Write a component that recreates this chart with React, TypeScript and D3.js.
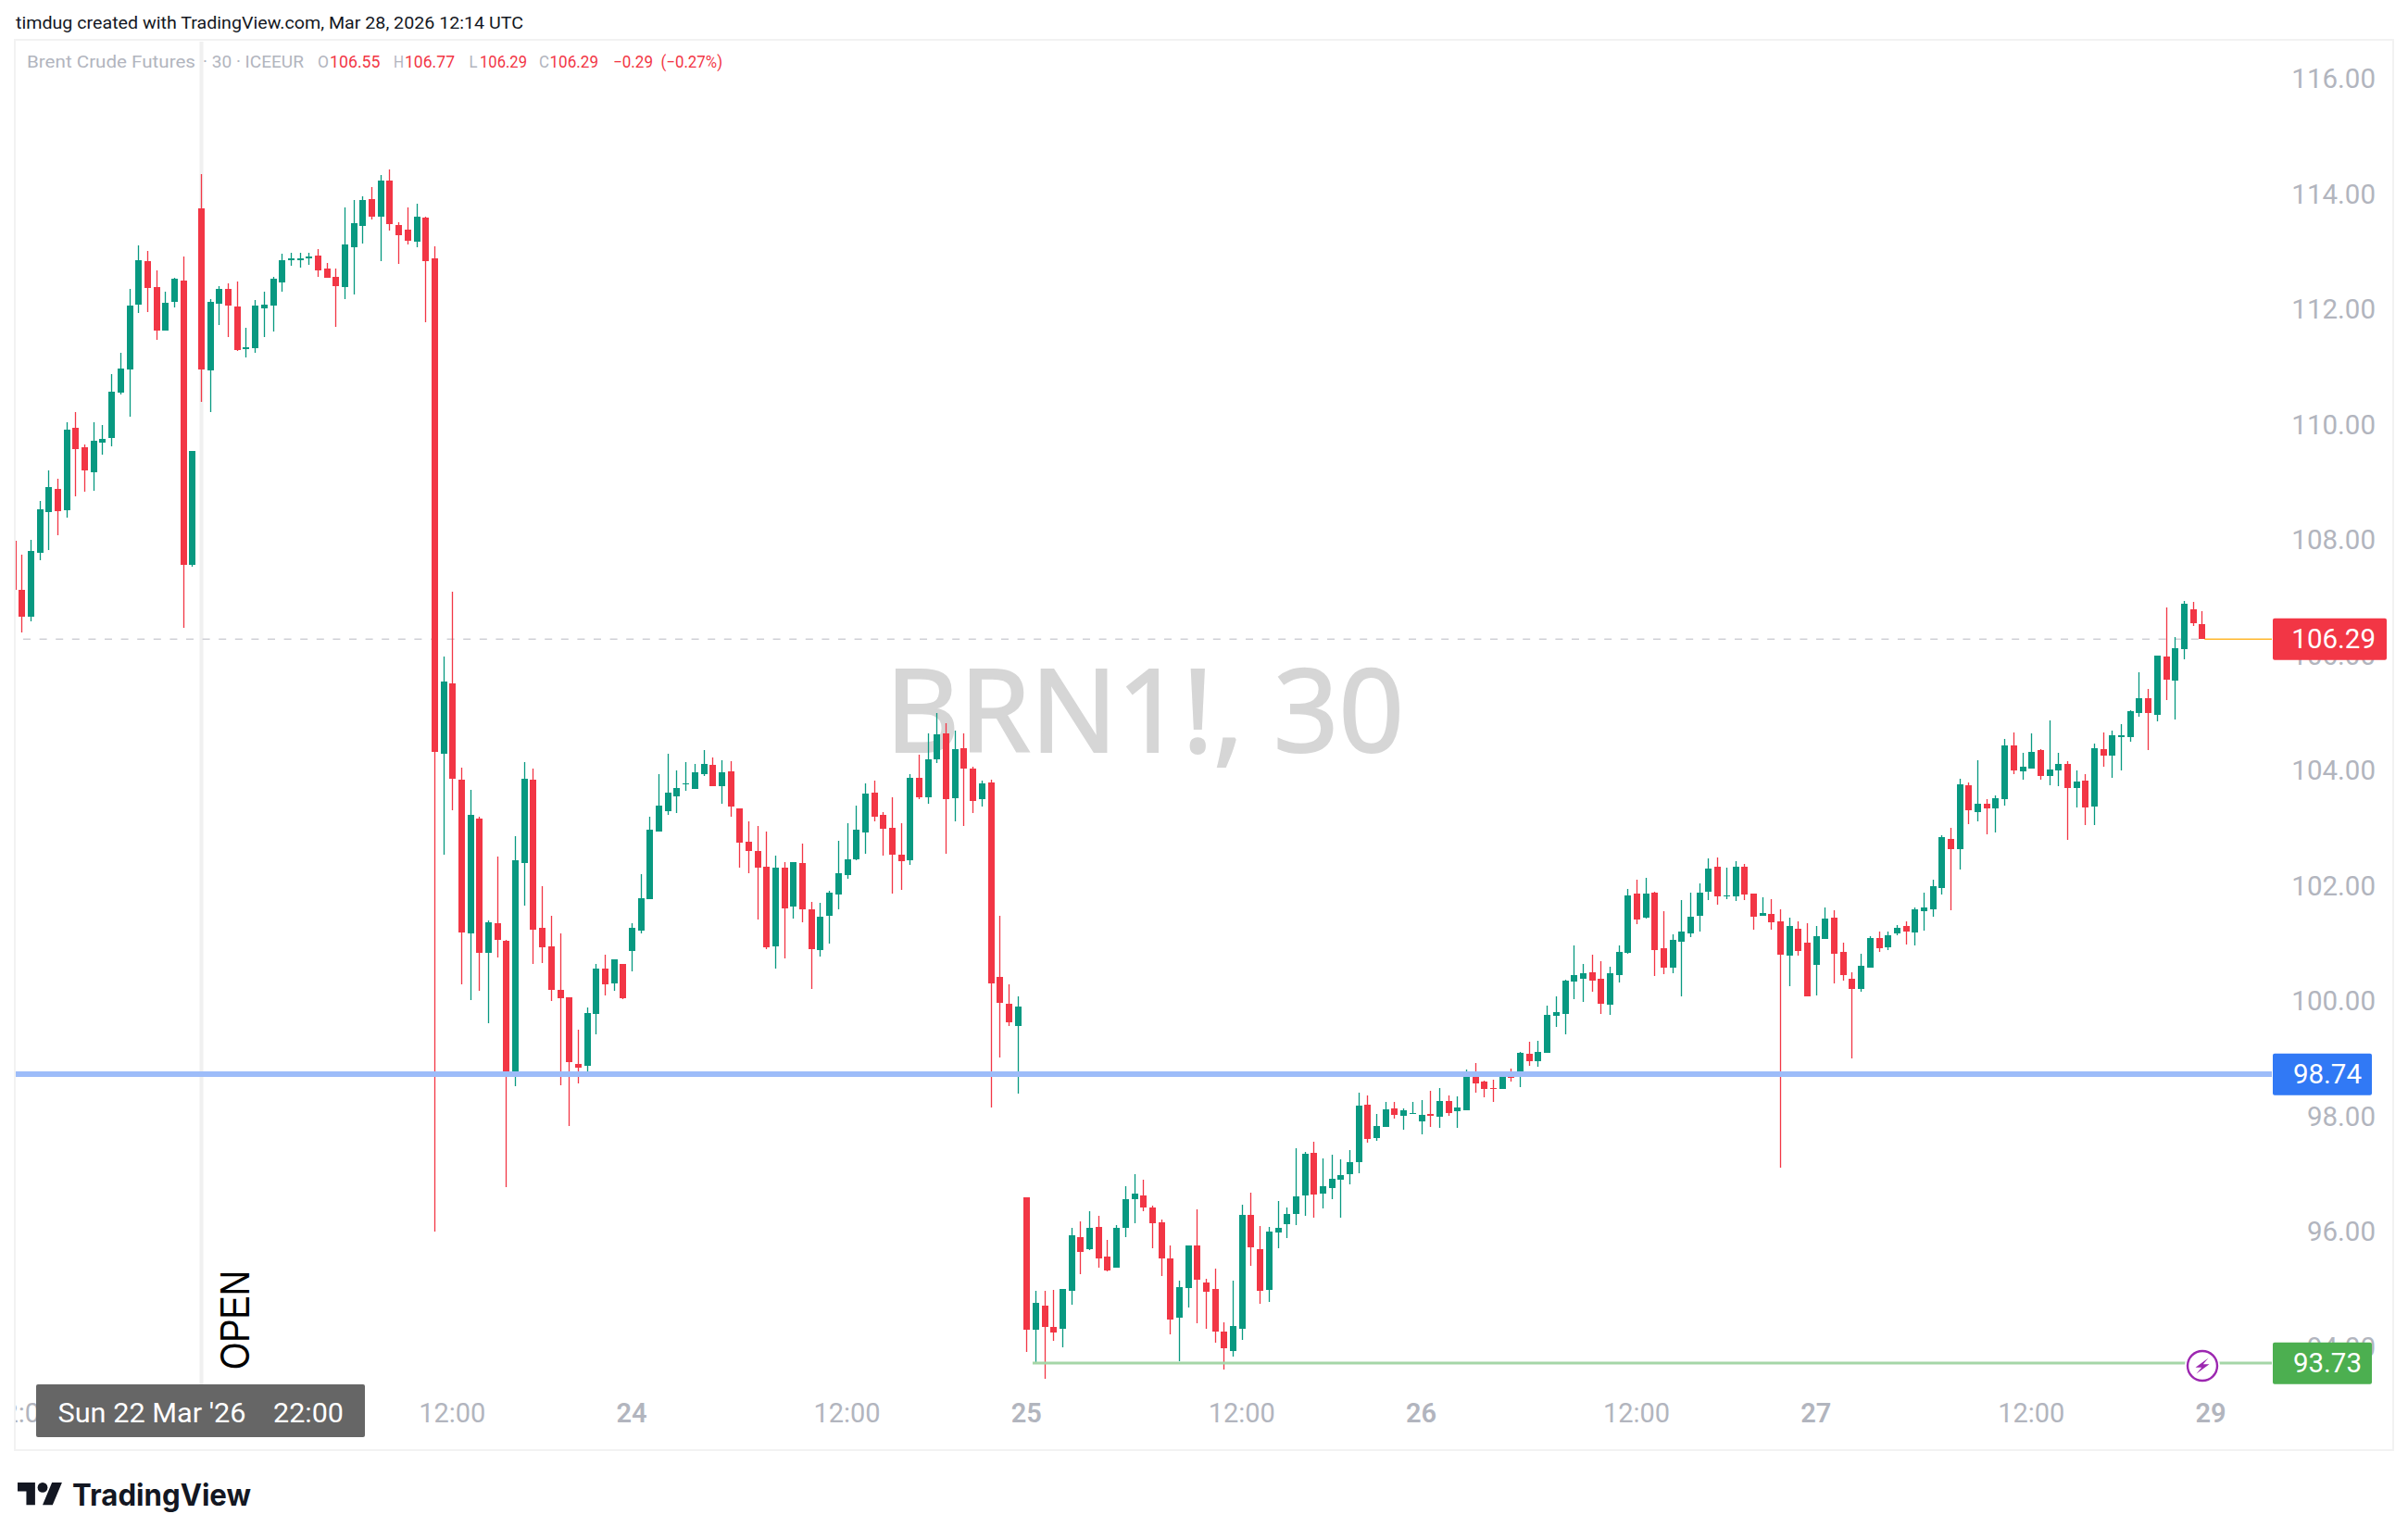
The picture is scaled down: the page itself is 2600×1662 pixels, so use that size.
import React from "react";
import * as d3 from "d3";

const opens = [108.00,
107.15,106.68,107.79,108.50,108.90,108.53,109.96,109.62,109.18,109.70,
109.78,110.57,110.97,112.10,112.85,112.40,111.65,112.14,112.51,107.58,
113.76,110.95,112.11,112.37,112.06,111.32,111.34,112.03,112.07,112.48,
112.86,112.87,112.89,112.94,112.72,112.58,112.40,113.09,113.46,113.93,
113.62,114.24,113.48,113.39,113.19,113.60,112.89,104.30,105.52,103.85,
101.18,103.18,100.85,101.36,101.06,98.69,102.41,103.85,101.29,100.97,
100.20,100.08,98.93,98.89,99.79,100.58,100.32,100.65,100.88,101.23,
101.78,102.95,103.31,103.57,103.77,103.69,103.95,104.11,103.74,104.00,
103.36,102.77,102.62,102.34,100.97,102.33,101.65,102.41,101.60,100.90,
101.49,101.86,102.20,102.47,102.94,103.63,103.25,103.02,102.55,102.46,
103.89,103.55,104.21,104.66,103.53,104.40,104.04,103.51,103.80,100.43,
99.96,99.58,96.61,94.31,94.73,94.36,94.33,94.99,95.92,95.71,
96.09,95.58,95.39,96.08,96.58,96.64,96.43,96.17,95.55,94.52,
95.03,95.78,95.14,95.02,94.28,93.95,94.33,96.30,95.71,95.00,
96.00,96.14,96.32,96.64,97.38,96.67,96.77,96.92,97.01,97.22,
98.22,97.64,97.83,98.15,98.02,98.06,97.93,98.06,98.01,98.28,
98.10,98.12,98.73,98.62,98.51,98.49,98.73,98.70,99.10,98.97,
99.12,99.76,99.79,100.35,100.40,100.51,100.40,99.95,100.46,100.85,
101.88,101.46,101.89,100.93,100.59,101.04,101.19,101.49,101.91,102.34,
101.83,101.83,102.34,101.88,101.49,101.52,101.40,100.80,101.27,101.03,
100.64,101.09,101.46,100.87,100.40,100.22,100.59,101.11,100.95,101.19,
101.32,101.20,101.57,101.60,101.97,102.83,102.65,103.76,103.29,103.44,
103.36,103.52,104.45,104.00,104.05,104.37,103.92,104.01,104.13,103.71,
103.84,103.39,104.38,104.27,104.60,104.60,105.01,105.27,104.98,105.99,
105.57,106.12,106.81,106.55];

const highs = [108.00,
107.76,108.01,108.69,109.21,109.07,110.05,110.23,109.66,110.05,110.00,
110.89,111.26,112.37,113.12,113.03,112.69,112.32,112.56,112.93,109.55,
114.36,112.19,112.41,112.47,112.50,111.69,112.17,112.32,112.57,112.97,
112.99,112.99,112.99,113.05,112.82,112.72,113.78,113.91,113.98,114.13,
114.34,114.43,113.52,113.78,113.84,113.62,113.11,105.99,107.12,104.06,
103.68,103.21,101.41,102.52,101.08,102.87,104.16,104.04,102.00,101.50,
101.18,100.08,99.52,99.90,100.65,100.82,100.73,100.65,101.36,102.21,
103.21,103.95,104.30,104.01,104.16,104.13,104.37,104.24,104.19,104.17,
103.36,103.13,103.05,102.95,102.54,102.42,102.42,102.74,101.73,101.71,
101.92,102.80,103.10,103.40,103.79,103.83,103.29,103.55,103.10,103.95,
104.29,104.66,105.01,104.83,104.71,104.66,104.08,103.83,103.86,101.49,
100.31,100.10,96.61,94.99,94.99,95.00,95.02,96.08,96.20,96.37,
96.29,95.87,96.13,96.80,97.01,96.91,96.46,96.23,95.78,95.16,
95.78,96.40,95.20,95.37,94.44,95.16,96.48,96.69,96.11,96.09,
96.55,96.44,97.46,97.39,97.57,97.28,97.35,97.27,97.43,98.43,
98.38,98.06,98.26,98.26,98.15,98.26,98.30,98.46,98.51,98.38,
98.36,98.83,98.94,98.63,98.65,98.79,98.84,99.13,99.31,99.32,
99.93,100.10,100.38,100.98,100.66,100.82,100.71,100.61,100.98,101.96,
102.12,102.15,101.91,101.57,101.17,101.77,101.89,102.05,102.49,102.50,
102.33,102.44,102.39,101.88,101.81,101.78,101.60,101.46,101.40,101.36,
101.32,101.64,101.59,101.03,100.51,100.83,101.14,101.22,101.22,101.33,
101.40,101.64,101.89,102.12,102.89,103.02,103.87,103.81,104.19,103.52,
103.58,104.56,104.67,104.32,104.66,104.38,104.88,104.32,104.17,104.01,
103.95,104.48,104.67,104.70,104.82,105.06,105.72,105.43,106.01,106.84,
106.33,106.95,106.94,106.77];

const lows = [107.15,
106.41,106.60,107.66,107.83,108.09,108.40,108.77,108.85,108.87,109.49,
109.63,110.53,110.15,111.95,111.96,111.48,111.65,112.05,106.48,107.55,
110.41,110.23,111.74,111.53,111.29,111.18,111.26,111.53,111.62,112.32,
112.77,112.74,112.78,112.58,112.56,111.71,112.19,112.27,113.15,113.57,
112.85,113.38,112.80,113.14,113.09,111.79,96.02,102.55,103.33,100.30,
100.03,100.19,99.63,100.77,96.79,98.54,101.67,100.66,100.67,100.02,
98.55,97.84,98.58,98.79,99.43,100.11,100.19,100.05,100.53,101.18,
101.78,102.95,103.24,103.27,103.66,103.69,103.92,103.74,103.43,103.21,
102.33,102.23,101.43,100.91,100.58,100.76,101.44,101.38,100.22,100.79,
101.01,101.60,102.13,102.45,102.57,103.13,102.53,101.88,101.94,102.38,
103.51,103.44,104.15,102.57,103.13,103.05,103.27,103.39,98.17,99.04,
99.58,98.41,93.93,93.74,93.46,94.12,94.01,94.75,95.28,95.69,
95.39,95.32,95.39,95.92,96.16,96.37,95.73,95.25,94.23,93.77,
94.70,94.42,94.33,94.09,93.63,93.84,94.13,95.42,94.76,94.79,
95.73,95.90,96.13,96.29,96.26,96.42,96.57,96.26,96.84,97.03,
97.56,97.59,97.83,97.98,97.78,98.06,97.70,97.83,97.81,98.02,
97.81,98.12,98.43,98.34,98.26,98.49,98.62,98.52,98.89,98.87,
99.12,99.57,99.44,100.05,100.00,100.18,99.79,99.77,100.34,100.83,
101.35,101.44,100.45,100.48,100.50,100.10,101.12,101.22,101.77,101.69,
101.78,101.75,101.77,101.25,101.49,101.25,97.12,100.27,100.80,100.10,
100.11,101.09,100.32,100.37,99.02,100.18,100.59,100.87,100.90,101.16,
100.99,100.98,101.24,101.48,101.86,101.59,102.30,103.08,103.13,102.91,
102.94,103.40,103.95,103.85,104.05,103.85,103.76,103.74,102.81,103.37,
103.07,103.07,104.08,103.89,104.01,104.51,104.95,104.37,104.87,105.24,
104.90,105.94,106.52,106.29];

const closes = [107.15,
106.68,107.82,108.54,108.93,108.51,109.93,109.59,109.21,109.73,109.77,
110.58,110.98,112.07,112.86,112.38,111.65,112.13,112.54,107.58,109.55,
110.97,112.14,112.37,112.07,111.31,111.35,112.07,112.10,112.54,112.86,
112.89,112.90,112.93,112.69,112.56,112.41,113.14,113.51,113.91,113.62,
114.24,113.49,113.30,113.20,113.62,112.85,104.34,105.55,103.87,101.20,
103.24,100.85,101.38,101.08,98.73,102.45,103.87,101.25,100.94,100.20,
100.06,98.95,98.86,99.81,100.58,100.30,100.73,100.06,101.29,101.80,
102.98,103.40,103.63,103.71,103.79,103.98,104.13,103.74,103.98,103.39,
102.76,102.62,102.33,100.94,102.33,101.62,102.42,101.60,100.91,101.47,
101.89,102.23,102.48,102.98,103.61,103.21,103.00,102.55,102.44,103.89,
103.55,104.21,104.64,103.51,104.39,104.04,103.48,103.79,100.32,99.98,
99.64,99.92,94.31,94.78,94.36,94.27,95.02,95.95,95.67,96.08,
95.55,95.34,96.08,96.58,96.67,96.43,96.16,95.55,94.49,95.05,
95.78,95.18,94.97,94.28,93.99,94.37,96.30,95.74,94.99,96.02,
96.08,96.32,96.62,97.36,96.65,96.80,96.93,97.00,97.22,98.20,
97.62,97.85,98.14,98.04,98.12,98.07,98.04,98.02,98.28,98.07,
98.17,98.73,98.59,98.49,98.49,98.75,98.68,99.12,98.97,99.13,
99.77,99.82,100.37,100.46,100.50,100.37,99.97,100.50,100.87,101.85,
101.43,101.88,100.90,100.59,101.07,101.22,101.48,101.89,102.31,101.83,
101.85,102.34,101.86,101.48,101.54,101.38,100.82,101.32,100.88,100.10,
101.14,101.44,100.83,100.47,100.22,100.63,101.11,100.93,101.16,101.28,
101.22,101.60,101.64,102.01,102.86,102.65,103.77,103.32,103.44,103.36,
103.53,104.45,104.01,104.08,104.34,103.92,104.03,104.13,103.71,103.82,
103.37,104.40,104.27,104.62,104.62,105.04,105.27,105.01,106.01,105.59,
106.13,106.91,106.57,106.29];

const priceTicks = [116, 114, 112, 110, 108, 106, 104, 102, 100, 98, 96, 94];
const timeTickLabels = ["12:00", "12:00", "24", "12:00", "25", "12:00", "26", "12:00", "27", "12:00", "29"];
const timeTickBars = [1, 49, 69, 93, 113, 137, 157, 181, 201, 225, 245];
const lastPrice = 106.29;
const bluePrice = 98.74;
const greenPrice = 93.73;
const openBar = 21;
const greenLineStartBar = 114;
const legendParts: [string, number, number, string][] = [
  ["Brent Crude Futures", 29, 182, "#b2b5be"],
  ["· 30 · ICEEUR", 219, 109, "#b2b5be"],
  ["O", 343, 12, "#b2b5be"],
  ["106.55", 356, 54.5, "#f23645"],
  ["H", 425, 11, "#b2b5be"],
  ["106.77", 437, 54, "#f23645"],
  ["L", 506.5, 9, "#b2b5be"],
  ["106.29", 518, 51, "#f23645"],
  ["C", 582, 11, "#b2b5be"],
  ["106.29", 593.5, 52.5, "#f23645"],
  ["−0.29", 662, 43, "#f23645"],
  ["(−0.27%)", 713.5, 66.5, "#f23645"],
];

const UP = "#089981";
const DOWN = "#f23645";
const FONT = "Roboto, sans-serif";
const GREY = "#b2b5be";

const LEFT = 17;
const RIGHT = 2583;
const TOP = 45;
const BOTTOM = 1565;

const x = d3.scaleLinear().domain([0, 244]).range([13.6, 2377.3]);
const y = d3.scaleLinear().domain([greenPrice, lastPrice]).range([1472.3, 690.3]);

function PriceTag({ price, fill, right, textRight }: { price: number; fill: string; right: number; textRight: number }) {
  const cy = y(price);
  return (
    <g>
      <rect x={2454} y={cy - 22.5} width={right - 2454} height={45} fill={fill} rx={2} />
      <text x={textRight} y={cy + 10} textAnchor="end" fontFamily={FONT} fontSize={29.5} fill="#fff">
        {price.toFixed(2)}
      </text>
    </g>
  );
}

export default function App() {
  const bars = d3.range(opens.length);
  return (
    <svg
      width={2600}
      height={1662}
      viewBox="0 0 2600 1662"
      style={{ position: "absolute", left: 0, top: 0, background: "#fff" }}
    >
      <defs>
        <clipPath id="plot">
          <rect x={LEFT} y={TOP} width={RIGHT - LEFT} height={BOTTOM - TOP} />
        </clipPath>
      </defs>
      <rect width={2600} height={1662} fill="#fff" />

      <text x={17} y={31} fontFamily={FONT} fontSize={18} fill="#131722" textLength={548} lengthAdjust="spacingAndGlyphs">
        timdug created with TradingView.com, Mar 28, 2026 12:14 UTC
      </text>

      <rect x={16} y={43} width={2568} height={1523} fill="none" stroke="#f2f2f2" strokeWidth={2} />

      <rect x={Math.round(x(openBar)) - 1.5} y={TOP} width={4} height={1495 - TOP} fill="#f0f0f0" />

      <text
        x={(955 + 1517) / 2}
        y={812}
        textAnchor="middle"
        fontFamily="'Noto Sans', sans-serif"
        fontSize={125}
        fill="#d6d6d6"
        stroke="#d6d6d6"
        strokeWidth={2}
        textLength={560}
        lengthAdjust="spacingAndGlyphs"
      >
        BRN1!, 30
      </text>

      {legendParts.map(([t, lx, w, c], i) => (
        <text key={i} x={lx} y={73} fontFamily={FONT} fontSize={18} fill={c} textLength={w} lengthAdjust="spacingAndGlyphs">
          {t}
        </text>
      ))}

      {priceTicks.map((p) => (
        <text key={p} x={2565} y={y(p) + 9.5} textAnchor="end" fontFamily={FONT} fontSize={29.5} fill={GREY}>
          {p.toFixed(2)}
        </text>
      ))}

      <line x1={25} x2={x(bars.length - 1)} y1={y(lastPrice)} y2={y(lastPrice)} stroke="#cfd0d6" strokeWidth={1.5} strokeDasharray="8 9.6" />
      <line x1={x(bars.length - 1) + 3} x2={2453} y1={y(lastPrice)} y2={y(lastPrice)} stroke="#ffb82e" strokeWidth={1.5} />

      <g clipPath="url(#plot)">
        {bars.map((i) => {
          const cx = Math.round(x(i));
          const up = closes[i] >= opens[i];
          const col = up ? UP : DOWN;
          const top = Math.round(y(Math.max(opens[i], closes[i])));
          const bot = Math.round(y(Math.min(opens[i], closes[i])));
          const wt = Math.round(y(highs[i]));
          const wb = Math.round(y(lows[i]));
          return (
            <g key={i} fill={col}>
              <rect x={cx - 0.15} y={wt} width={1.3} height={wb - wt} />
              <rect x={cx - 3} y={top} width={7} height={Math.max(bot - top, 1)} />
            </g>
          );
        })}
      </g>

      <rect x={LEFT} y={Math.round(y(bluePrice)) - 3} width={2453 - LEFT} height={6} fill="#9dbcf9" />
      <rect x={x(greenLineStartBar) - 3} y={Math.round(y(greenPrice)) - 1.5} width={2453 - x(greenLineStartBar) + 3} height={3} fill="#a5d6a7" />

      <g clipPath="url(#plot)">
        {timeTickLabels.map((t, i) => (
          <text
            key={i}
            x={x(timeTickBars[i])}
            y={1535.5}
            textAnchor="middle"
            fontFamily={FONT}
            fontSize={29}
            fontWeight={t.includes(":") ? 400 : 600}
            fill={GREY}
          >
            {t}
          </text>
        ))}
      </g>

      <PriceTag price={lastPrice} fill={DOWN} right={2577} textRight={2565} />
      <PriceTag price={bluePrice} fill="#3179f5" right={2561} textRight={2550} />
      <PriceTag price={greenPrice} fill="#4caf50" right={2561} textRight={2550} />

      <g transform="translate(2378,1475)">
        <circle r={19} fill="#fff" />
        <circle r={16} fill="#fff" stroke="#9c27b0" strokeWidth={2.4} />
        <path d="M6.5,-8.5 L-7.5,1.8 L-0.8,1.8 L-6.5,8.5 L7.5,-1.8 L0.8,-1.8 Z" fill="#9c27b0" />
      </g>

      <text
        x={0}
        y={0}
        transform="translate(269,1479) rotate(-90)"
        fontFamily="'Liberation Sans', sans-serif"
        fontSize={45}
        fill="#000"
        textLength={107}
        lengthAdjust="spacingAndGlyphs"
      >
        OPEN
      </text>

      <rect x={39} y={1495} width={355} height={57} rx={2} fill="#666666" />
      <text x={62.5} y={1535.5} fontFamily={FONT} fontSize={30} fill="#fff" textLength={203} lengthAdjust="spacingAndGlyphs">
        Sun 22 Mar '26
      </text>
      <text x={295} y={1535.5} fontFamily={FONT} fontSize={30} fill="#fff" textLength={76} lengthAdjust="spacingAndGlyphs">
        22:00
      </text>

      <g transform="translate(19,1595.6) scale(1.35)" fill="#131722">
        <path d="M14 22H7V11H0V4h14v18zM28 22h-8l7.5-18h8L28 22z" />
        <circle cx={20} cy={8} r={4} />
      </g>
      <text x={78} y={1625.5} fontFamily="Inter, sans-serif" fontWeight={700} fontSize={32} fill="#131722" textLength={193} lengthAdjust="spacingAndGlyphs">
        TradingView
      </text>
    </svg>
  );
}
